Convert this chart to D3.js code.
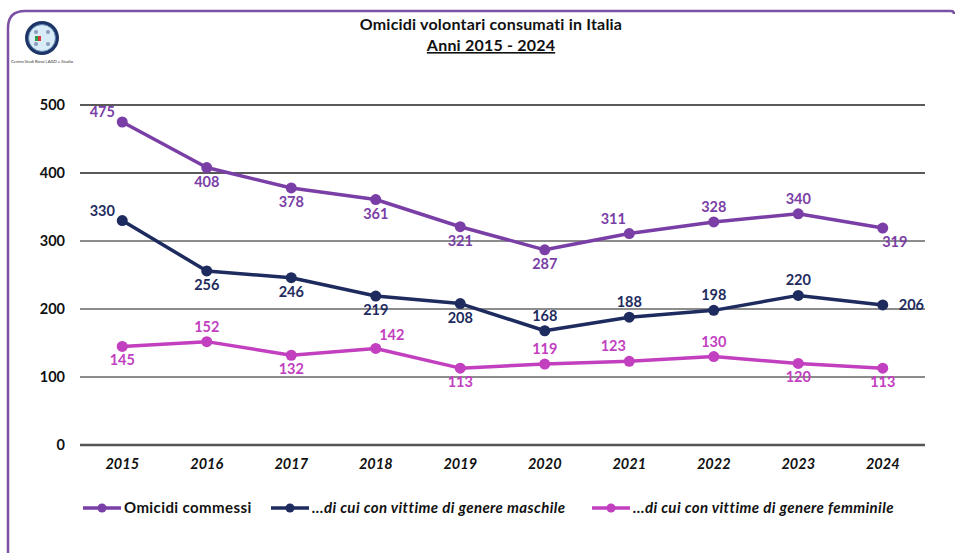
<!DOCTYPE html>
<html><head><meta charset="utf-8">
<script src="https://cdn.jsdelivr.net/npm/d3@7"></script>
<style>
body{margin:0;background:#fff;}
svg{display:block;font-family:Lato,"Open Sans",sans-serif;}
</style></head>
<body><svg id="c" width="955" height="555"></svg>
<script>
const years = ["2015","2016","2017","2018","2019","2020","2021","2022","2023","2024"];
const omicidi = [475,408,378,361,321,287,311,328,340,319];
const maschili = [330,256,246,219,208,168,188,198,220,206];
const femminili = [145,152,132,142,113,119,123,130,120,113];
const yTicks = [0,100,200,300,400,500];
const seriesNames = ["Omicidi commessi","...di cui con vittime di genere maschile","...di cui con vittime di genere femminile"];
// label placement codes per point
const posOm = ["L","B","B","B","B","B","AL","A","A","BR"];
const posMa = ["L","B","B","B","B","A","A","A","A","R"];
const posFe = ["B","A","B","AR","B","A","AL","A","B","B"];

const svg = d3.select("#c");
const colors = ["#7a3fa6","#1e2b5e","#c23fbf"];

// frame
svg.append("path")
  .attr("d","M8,553 L8,28 Q8,11 25,11 L951,11 Q954,11 954,14")
  .attr("fill","none").attr("stroke","#7b52a3").attr("stroke-width",2.5);

// logo
const lg = svg.append("g").attr("transform","translate(42,38)");
lg.append("circle").attr("r",17).attr("fill","#1d3566");
lg.append("circle").attr("r",13.5).attr("fill","#d8ecf7").attr("stroke","#5c7fae").attr("stroke-width",1);
[[-6,-6],[6,-6],[-6,6],[6,6]].forEach(p=>lg.append("circle").attr("cx",p[0]).attr("cy",p[1]).attr("r",2).attr("fill","#8a9bbb"));
lg.append("rect").attr("x",-7).attr("y",-2).attr("width",3).attr("height",5).attr("fill","#2e9a4a");
lg.append("rect").attr("x",-4).attr("y",-2).attr("width",3).attr("height",5).attr("fill","#d43a3a");
svg.append("text").attr("x",42).attr("y",63).attr("text-anchor","middle")
  .attr("font-size",4.2).attr("fill","#333").text("Centro Studi Rossi LAGO e Studio");

// title
svg.append("text").attr("x",491).attr("y",30).attr("text-anchor","middle").attr("letter-spacing",0.2)
  .attr("font-size",16).attr("font-weight","bold").attr("fill","#111").text("Omicidi volontari consumati in Italia");
svg.append("text").attr("x",491).attr("y",51).attr("text-anchor","middle").attr("letter-spacing",0.2)
  .attr("font-size",16).attr("font-weight","bold").attr("fill","#111").attr("text-decoration","underline").text("Anni 2015 - 2024");

const x = d3.scaleBand().domain(years).range([80,925]);
const y = d3.scaleLinear().domain([0,500]).range([445,105]);

// grid
const grid = svg.append("g");
yTicks.forEach(t=>{
  grid.append("line").attr("x1",80).attr("x2",925).attr("y1",y(t)).attr("y2",y(t))
    .attr("stroke", t===0 ? "#555" : (t>=400? "#222":"#666")).attr("stroke-width", t===0?2.5:1.3);
});
// y axis labels
const yAxis = d3.axisLeft(y).tickValues(yTicks).tickSize(0).tickPadding(0);
const ya = svg.append("g").attr("transform","translate(65,0)").call(yAxis);
ya.select(".domain").remove();
ya.selectAll("text").attr("font-size",14.5).attr("font-weight","bold").attr("fill","#111").attr("font-family","Lato,'Open Sans',sans-serif");
// x axis labels
const xAxis = d3.axisBottom(x).tickSize(0).tickPadding(0);
const xa = svg.append("g").attr("transform","translate(0,459)").call(xAxis);
xa.select(".domain").remove();
xa.selectAll("text").attr("font-size",14.5).attr("font-weight","bold").attr("font-style","italic").attr("fill","#111").attr("font-family","Lato,'Open Sans',sans-serif");

const cx = d=>x(d)+x.bandwidth()/2;
const line = d3.line().x((d,i)=>cx(years[i])).y(d=>y(d));
const allSeries = [omicidi,maschili,femminili];
const allPos = [posOm,posMa,posFe];
const off = {L:[-20,-5,"middle"],B:[0,19,"middle"],A:[0,-10,"middle"],AL:[-16,-10,"middle"],AR:[16,-8,"middle"],BR:[12,19,"middle"],R:[16,5,"start"]};

allSeries.forEach((s,k)=>{
  const g = svg.append("g");
  g.append("path").datum(s).attr("d",line).attr("fill","none").attr("stroke",colors[k]).attr("stroke-width",3.5).attr("stroke-linejoin","round");
  g.selectAll("circle").data(s).enter().append("circle")
    .attr("cx",(d,i)=>cx(years[i])).attr("cy",d=>y(d)).attr("r",5.5).attr("fill",colors[k]);
  g.selectAll("text").data(s).enter().append("text")
    .attr("x",(d,i)=>cx(years[i])+off[allPos[k][i]][0])
    .attr("y",(d,i)=>y(d)+off[allPos[k][i]][1])
    .attr("text-anchor",(d,i)=>off[allPos[k][i]][2])
    .attr("font-size",14.5).attr("font-weight","bold").attr("fill",colors[k]).text(d=>d);
});

// legend
const legX = [83,271,592];
seriesNames.forEach((n,k)=>{
  const g = svg.append("g").attr("transform",`translate(${legX[k]},508)`);
  g.append("line").attr("x1",0).attr("x2",38).attr("stroke",colors[k]).attr("stroke-width",3.5);
  g.append("circle").attr("cx",19).attr("r",4.5).attr("fill",colors[k]);
  g.append("text").attr("x",41).attr("y",5).attr("font-size",15).attr("letter-spacing",0.4).attr("font-weight","bold")
    .attr("font-style", k===0?"normal":"italic").attr("fill","#111").text(n);
});
</script></body></html>
